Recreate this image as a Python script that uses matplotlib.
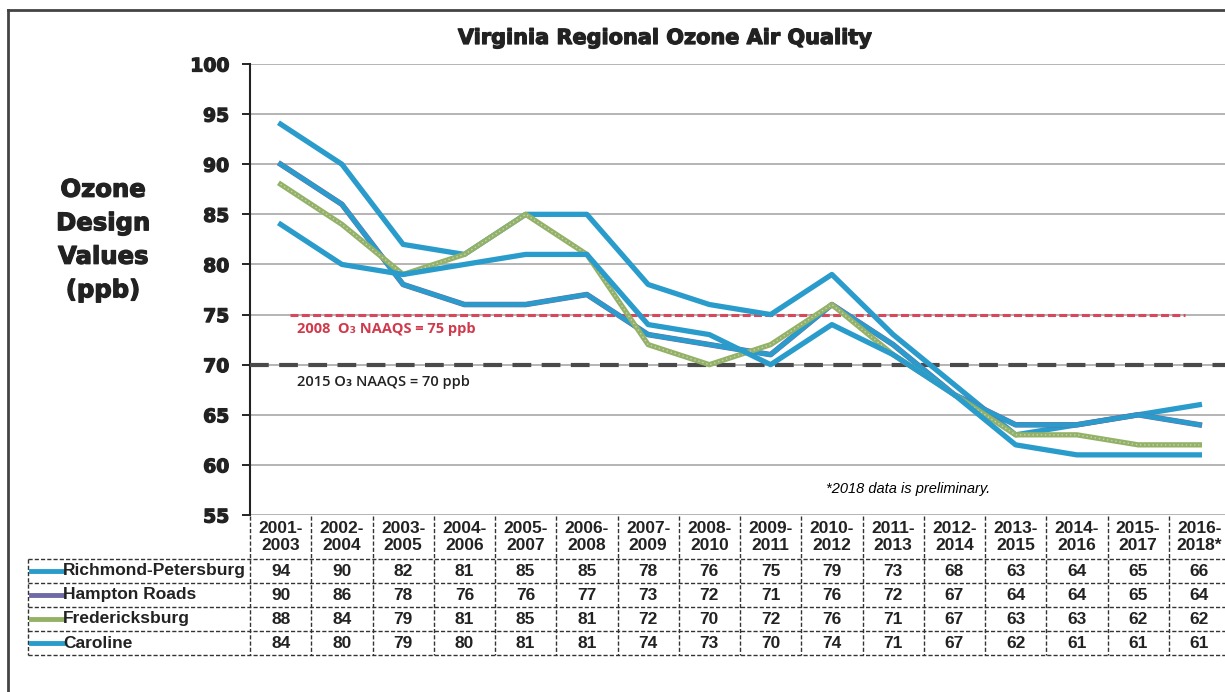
import matplotlib
matplotlib.use("Agg")
import matplotlib.pyplot as plt
import matplotlib.patheffects as pe
from matplotlib.lines import Line2D
from matplotlib.transforms import blended_transform_factory

# Data
periods = ["2001-\n2003", "2002-\n2004", "2003-\n2005", "2004-\n2006", "2005-\n2007",
           "2006-\n2008", "2007-\n2009", "2008-\n2010", "2009-\n2011", "2010-\n2012",
           "2011-\n2013", "2012-\n2014", "2013-\n2015", "2014-\n2016", "2015-\n2017",
           "2016-\n2018*"]
regions = ["Richmond-Petersburg", "Hampton Roads", "Fredericksburg", "Caroline"]
richmond = [94, 90, 82, 81, 85, 85, 78, 76, 75, 79, 73, 68, 63, 64, 65, 66]
hampton = [90, 86, 78, 76, 76, 77, 73, 72, 71, 76, 72, 67, 64, 64, 65, 64]
fredericksburg = [88, 84, 79, 81, 85, 81, 72, 70, 72, 76, 71, 67, 63, 63, 62, 62]
caroline = [84, 80, 79, 80, 81, 81, 74, 73, 70, 74, 71, 67, 62, 61, 61, 61]
series = [richmond, hampton, fredericksburg, caroline]
naaqs_2008 = 75
naaqs_2015 = 70

BLUE = "#2a9ccc"
PURPLE = "#6f6aa6"
GREEN = "#93b266"
swatch_colors = [BLUE, PURPLE, GREEN, BLUE]

HEAVY = dict(family="DejaVu Sans", fontweight="bold")
TAB = dict(family="Liberation Sans", fontweight="bold")
thick = [pe.withStroke(linewidth=0.9, foreground="#222222")]

W, H = 1225, 692
fig = plt.figure(figsize=(W / 100, H / 100), dpi=100)
fig.patch.set_facecolor("white")


def fy(y):
    return 1 - y / H


def fx(x):
    return x / W


ax = fig.add_axes([fx(250), fy(515), fx(1230) - fx(250), fy(64) - fy(515)])
ax.set_xlim(-0.5, len(periods) - 0.5)
ax.set_ylim(55, 100)
ax.set_yticks(range(55, 101, 5))
ax.set_xticks([])
ax.tick_params(axis="y", length=6, width=1.2, pad=9, labelsize=13.5)
for lab in ax.get_yticklabels():
    lab.set_fontweight("bold")
    lab.set_fontfamily("DejaVu Sans")
    lab.set_color("#222222")
    lab.set_path_effects(thick)
for s in ["top", "right", "bottom"]:
    ax.spines[s].set_visible(False)
ax.spines["left"].set_linewidth(1.5)
ax.spines["left"].set_color("#222222")
ax.yaxis.grid(True, color="#a8a8a8", linewidth=1.2)
ax.set_axisbelow(True)

x = list(range(len(periods)))

# reference standard lines
ax.plot([0.15, 14.76], [naaqs_2008] * 2, color="#d9475a", lw=2.2,
        dashes=(2.6, 1.1), zorder=3)
ax.plot([-0.5, 15.5], [naaqs_2015] * 2, color="#4a4a4a", lw=3,
        dashes=(4.5, 2.5), zorder=3)
ax.text(0.27, 74.3, "2008  O\u2083 NAAQS = 75 ppb", color="#d03a4c", fontsize=10.5,
        fontweight="bold", va="top", family=["Open Sans", "DejaVu Sans"], zorder=4)
ax.text(0.27, 68.3, "2015 O\u2083 NAAQS = 70 ppb", color="#222222", fontsize=10.5,
        fontweight="semibold", va="center", family=["Open Sans", "DejaVu Sans"],
        zorder=4)

# series lines
ax.plot(x, richmond, color=BLUE, lw=3.8, zorder=5)
ax.plot(x, hampton, color=PURPLE, lw=4.0, zorder=5)
ax.plot(x, hampton, color=BLUE, lw=3.4, zorder=5)
ax.plot(x, fredericksburg, color=GREEN, lw=3.8, zorder=6)
ax.plot(x, fredericksburg, color="#c9cfc0", lw=1.0, dashes=(1, 2), zorder=6)
ax.plot(x, caroline, color=BLUE, lw=3.8, zorder=7)

ax.text(10.25, 57.6, "*2018 data is preliminary.", fontsize=10.5, style="italic",
        ha="center", va="center", family="Liberation Sans")

# title and y label
fig.text(fx(665), fy(38), "Virginia Regional Ozone Air Quality", ha="center",
         va="center", fontsize=15, color="#222222", path_effects=thick, **HEAVY)
fig.text(fx(103), fy(240), "Ozone\nDesign\nValues\n(ppb)", ha="center", va="center",
         fontsize=17.5, linespacing=1.5, color="#222222", path_effects=thick,
         **HEAVY)

# data table beneath the axis
tr = blended_transform_factory(ax.transData, fig.transFigure)
grid_kw = dict(color="#333333", lw=1.0, dashes=(3, 1.5))
row_y = [571, 595, 619, 643]
row_lines = [559, 583, 607, 631, 655]

for i, p in enumerate(periods):
    fig.text(i, fy(537), p, transform=tr, ha="center", va="center", fontsize=12.5,
             linespacing=1.15, color="#222222", **TAB)
    for r, vals in enumerate(series):
        fig.text(i, fy(row_y[r]), str(vals[i]), transform=tr, ha="center",
                 va="center", fontsize=12.5, color="#222222", **TAB)

for i in range(len(periods) + 1):
    fig.add_artist(Line2D([i - 0.5, i - 0.5], [fy(516), fy(655)], transform=tr,
                          **grid_kw))
for yy in row_lines:
    fig.add_artist(Line2D([fx(28), fx(1225)], [fy(yy), fy(yy)],
                          transform=fig.transFigure, **grid_kw))
fig.add_artist(Line2D([fx(28), fx(28)], [fy(559), fy(655)],
                      transform=fig.transFigure, **grid_kw))

for r, name in enumerate(regions):
    fig.add_artist(Line2D([fx(31), fx(63)], [fy(row_y[r])] * 2,
                          transform=fig.transFigure, color=swatch_colors[r], lw=3.5))
    fig.text(fx(63), fy(row_y[r]), name, ha="left", va="center", fontsize=12.5,
             color="#222222", **TAB)

# outer frame
fig.add_artist(Line2D([fx(8), fx(8)], [fy(10), 0], transform=fig.transFigure,
                      color="#444444", lw=2))
fig.add_artist(Line2D([fx(8), 1], [fy(10), fy(10)], transform=fig.transFigure,
                      color="#444444", lw=2))

fig.savefig("out.png", dpi=100, facecolor="white")
